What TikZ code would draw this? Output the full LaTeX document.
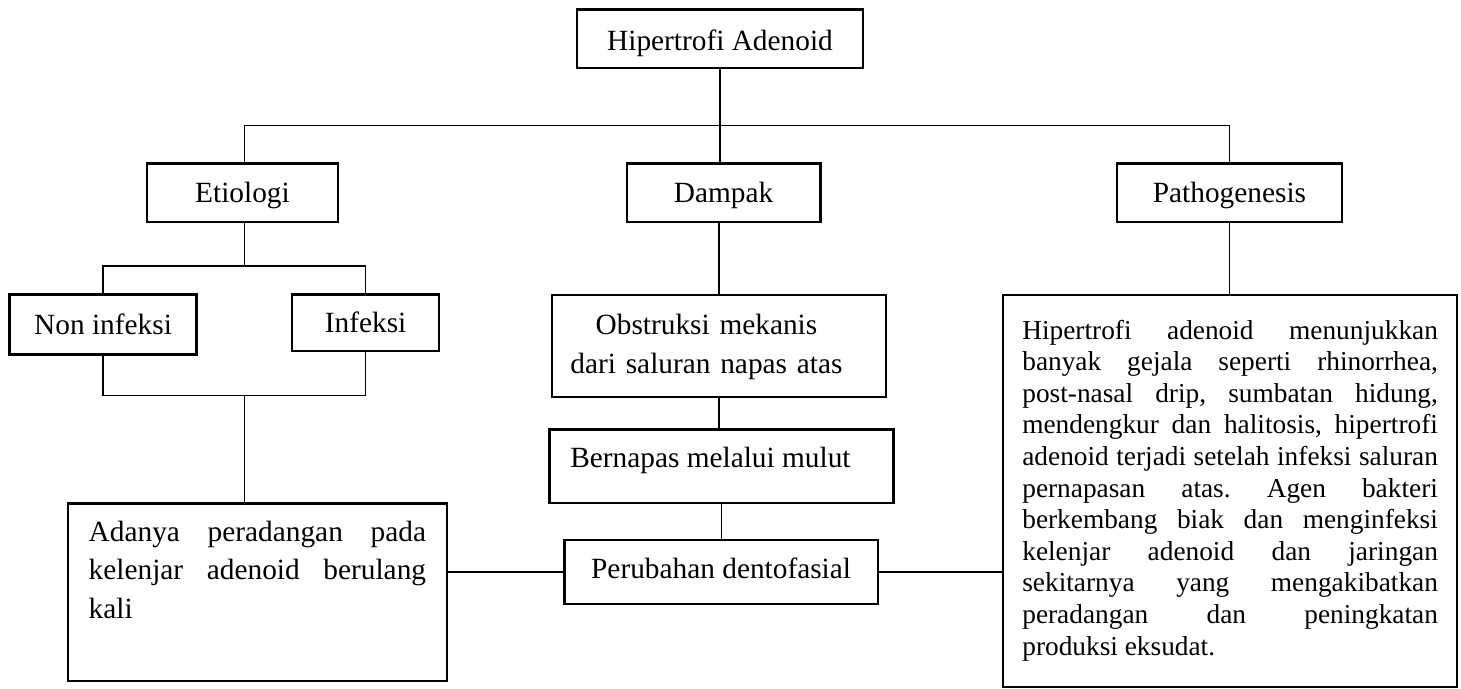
\documentclass[tikz,border=0pt]{standalone}
\usepackage{fontspec}
\setmainfont{Liberation Serif}
\usepackage{tikz}
\newcommand{\boxfont}{\fontsize{22}{29}\selectfont}
\newcommand{\pathofont}{\fontsize{20.5}{23.7}\selectfont}
\hyphenpenalty=10000
\exhyphenpenalty=10000
\tolerance=10000
\frenchspacing

\begin{document}
\begin{tikzpicture}[x=0.75pt,y=0.75pt,yscale=-1,xscale=1,
  box/.style={draw, line width=1.7pt, inner sep=0pt, font=\boxfont, anchor=north west},
  link/.style={line width=1.1pt}]
\useasboundingbox (0,0) rectangle (1461,689);

% Text Node
\draw (576,8.3) node [box, minimum width=214.3pt, text height=30.75pt, text depth=13pt] (root) {Hipertrofi Adenoid};
% Text Node
\draw (145.7,162.3) node [box, minimum width=143.5pt, text height=29.5pt, text depth=14.25pt] (etio) {Etiologi};
% Text Node
\draw (625.7,162.3) node [box, minimum width=145.2pt, text height=29.5pt, text depth=14.25pt] (dampak) {Dampak};
% Text Node
\draw (1116,162.3) node [box, minimum width=168.5pt, text height=29.5pt, text depth=14.25pt] (phead) {Pathogenesis};
% Text Node
\draw (8.4,293.3) node [box, minimum width=140.3pt, text height=30pt, text depth=15pt] (nonin) {Non infeksi};
% Text Node
\draw (291,293.3) node [box, minimum width=110.25pt, text height=28.8pt, text depth=13.7pt] (infek) {Infeksi};
% Text Node
\draw (551,294) node [box, text width=250.5pt, align=center, text height=29.5pt, text depth=47pt] (obst) {Obstruksi mekanis\kern19pt\\dari saluran napas atas\kern19pt};
% Text Node
\draw (548.3,428.3) node [box, minimum width=258pt, text height=28.3pt, text depth=26.8pt] (bern) {Bernapas melalui mulut\kern16.5pt};
% Text Node
\draw (563.3,538.8) node [box, minimum width=235pt, text height=29.2pt, text depth=18.6pt] (perub) {Perubahan dentofasial};
% Text Node
\draw (66.6,502.3) node [box, text width=253pt, inner xsep=15.75pt, align=justify, text height=28.3pt, text depth=105pt] (adanya) {Adanya peradangan pada\linebreak kelenjar adenoid berulang\linebreak kali};
% Text Node
\draw (1002,293.5) node [box, font=\pathofont, text width=311.7pt, inner xsep=14.4pt, align=justify, text height=33.4pt, text depth=261pt] (ptext) {Hipertrofi adenoid menunjukkan\linebreak banyak gejala seperti rhinorrhea,\linebreak post-nasal drip, sumbatan hidung,\linebreak mendengkur dan halitosis, hipertrofi\linebreak adenoid terjadi setelah infeksi saluran\linebreak pernapasan atas. Agen bakteri\linebreak berkembang biak dan menginfeksi\linebreak kelenjar adenoid dan jaringan\linebreak sekitarnya yang mengakibatkan\linebreak peradangan dan peningkatan\linebreak produksi eksudat.};

\coordinate (topbus) at (720,125.7);
\coordinate (etiobus) at (244.4,266);
\coordinate (joinbus) at (244.4,395.3);

% Connection
\draw [link] (etiobus |- etio.north) |- (topbus) -| (phead.north);
% Connection
\draw [link] (root.south) -- (root.south |- dampak.north);
% Connection
\draw [link] (etiobus |- etio.south) -- (etiobus);
% Connection
\draw [link] (nonin.north) |- (etiobus) -| (infek.north);
% Connection
\draw [link] (nonin.south) |- (joinbus) -| (infek.south);
% Connection
\draw [link] (joinbus) -- (joinbus |- adanya.north);
% Connection
\draw [link] (obst.north) -- (obst.north |- dampak.south);
% Connection
\draw [link] (obst.south) -- (obst.south |- bern.north);
% Connection
\draw [link] (bern.south) -- (bern.south |- perub.north);
% Connection
\draw [link] (perub.west) -- (adanya.east |- perub.west);
% Connection
\draw [link] (perub.east) -- (ptext.west |- perub.east);
% Connection
\draw [link] (phead.south) -- (phead.south |- ptext.north);

\end{tikzpicture}
\end{document}
